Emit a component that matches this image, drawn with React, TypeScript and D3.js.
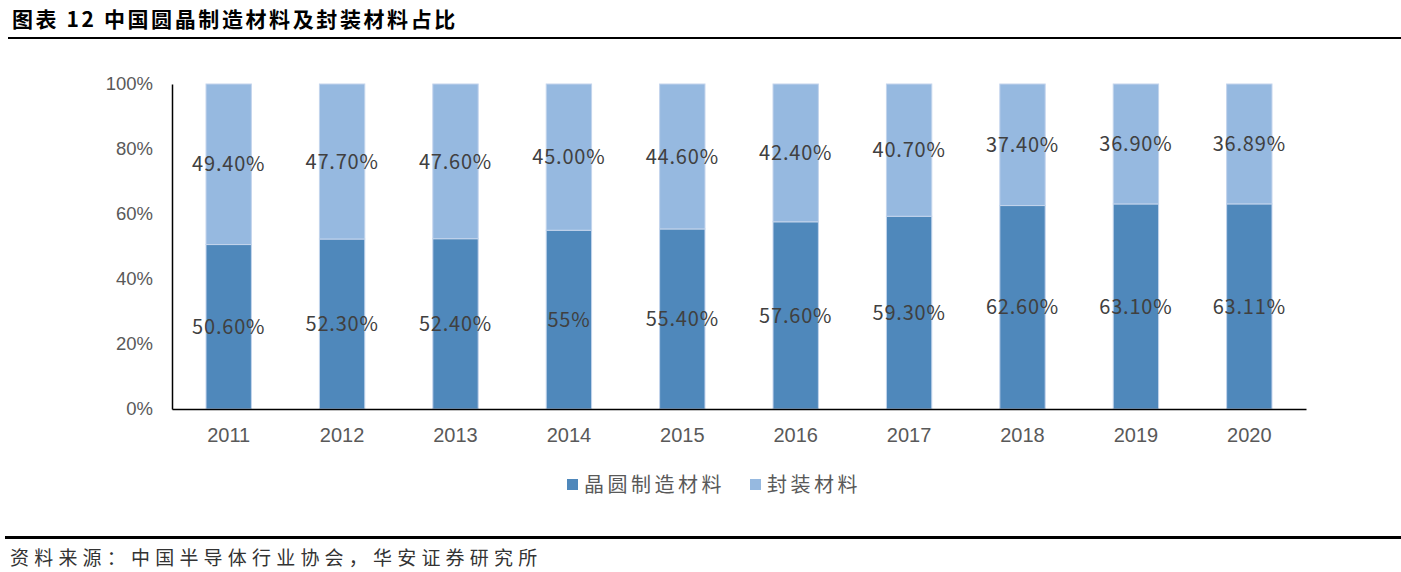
import React, { useRef, useEffect } from 'react';
import * as d3 from 'd3';

const years = ['2011', '2012', '2013', '2014', '2015', '2016', '2017', '2018', '2019', '2020'];
const waferShare = [50.6, 52.3, 52.4, 55, 55.4, 57.6, 59.3, 62.6, 63.1, 63.11];
const packageShare = [49.4, 47.7, 47.6, 45.0, 44.6, 42.4, 40.7, 37.4, 36.9, 36.89];
const waferLabels = ['50.60%', '52.30%', '52.40%', '55%', '55.40%', '57.60%', '59.30%', '62.60%', '63.10%', '63.11%'];
const packageLabels = ['49.40%', '47.70%', '47.60%', '45.00%', '44.60%', '42.40%', '40.70%', '37.40%', '36.90%', '36.89%'];
const yTicks = [0, 20, 40, 60, 80, 100];
const seriesNames = ['晶圆制造材料', '封装材料'];

const colors = {
  wafer: '#4f88bb',
  pack: '#96b9e0',
  edge: '#c3d4ec',
  axisText: '#595959',
  label: '#404040',
};

const CJK = '"Noto Sans CJK SC", "Noto Sans", sans-serif';
const LAT = '"Liberation Sans", Arial, sans-serif';

const App: React.FC = () => {
  const svgRef = useRef<SVGSVGElement>(null);
  const width = 1401;
  const height = 572;

  useEffect(() => {
    document.body.style.margin = '0';
    if (!svgRef.current) return;
    const svg = d3.select(svgRef.current);
    svg.selectAll('*').remove();

    const margin = { top: 84, left: 172, right: 1401 - 1306, bottom: 572 - 409 };
    const w = width - margin.left - margin.right;
    const h = height - margin.top - margin.bottom;

    svg.append('rect').attr('width', width).attr('height', height).attr('fill', '#fff');

    // Title and rules
    svg.append('text')
      .attr('x', 12)
      .attr('y', 27)
      .attr('font-family', CJK)
      .attr('font-size', '21px')
      .attr('font-weight', 700)
      .attr('letter-spacing', '2.6px')
      .attr('fill', '#000')
      .text('图表 12 中国圆晶制造材料及封装材料占比');

    svg.append('rect').attr('x', 8).attr('y', 37).attr('width', width - 8).attr('height', 2).attr('fill', '#000');
    svg.append('rect').attr('x', 5).attr('y', 536).attr('width', width - 5).attr('height', 3).attr('fill', '#000');

    svg.append('text')
      .attr('x', 10)
      .attr('y', 565)
      .attr('font-family', CJK)
      .attr('font-size', '19px')
      .attr('letter-spacing', '5.2px')
      .attr('fill', '#333')
      .text('资料来源：中国半导体行业协会，华安证券研究所');

    const g = svg.append('g').attr('transform', `translate(${margin.left},${margin.top})`);

    const x = d3.scaleBand<string>().domain(years).range([0, w]).paddingInner(0.6).paddingOuter(0.3);
    const y = d3.scaleLinear().domain([0, 100]).range([h, 0]);

    // Stacked bars
    const rows = years.map((yr, i) => ({ year: yr, wafer: waferShare[i], pack: packageShare[i] }));
    const stack = d3.stack<{ year: string; wafer: number; pack: number }>().keys(['wafer', 'pack']);
    const series = stack(rows);
    const fills = [colors.wafer, colors.pack];
    const labelSets = [waferLabels, packageLabels];

    series.forEach((s, si) => {
      g.selectAll(`.bar-${si}`)
        .data(s)
        .enter()
        .append('rect')
        .attr('x', d => x(d.data.year)!)
        .attr('y', d => y(Math.min(d[1], 100)))
        .attr('width', x.bandwidth())
        .attr('height', d => y(d[0]) - y(Math.min(d[1], 100)))
        .attr('fill', fills[si])
        .attr('stroke', colors.edge)
        .attr('stroke-width', 1);
    });

    series.forEach((s, si) => {
      g.selectAll(`.lab-${si}`)
        .data(s)
        .enter()
        .append('text')
        .attr('x', d => x(d.data.year)! + x.bandwidth() / 2)
        .attr('y', d => (y(d[0]) + y(Math.min(d[1], 100))) / 2)
        .attr('dy', '0.36em')
        .attr('text-anchor', 'middle')
        .attr('font-family', CJK)
        .attr('font-size', '20px')
        .attr('letter-spacing', '0.8px')
        .attr('fill', colors.label)
        .text((d, i) => labelSets[si][i]);
    });

    // Axes
    const yAxis = g.append('g')
      .call(d3.axisLeft(y).tickValues(yTicks).tickSize(0).tickPadding(19).tickFormat(d => `${d}%`));
    yAxis.select('.domain').attr('stroke', '#000').attr('stroke-width', 1.5);
    yAxis.selectAll('text')
      .attr('font-family', LAT)
      .attr('font-size', '18.5px')
      .attr('fill', colors.axisText);

    const xAxis = g.append('g')
      .attr('transform', `translate(0,${h})`)
      .call(d3.axisBottom(x).tickSize(0).tickPadding(19));
    xAxis.select('.domain').attr('stroke', '#000').attr('stroke-width', 1.5);
    xAxis.selectAll('text')
      .attr('font-family', LAT)
      .attr('font-size', '20px')
      .attr('fill', colors.axisText);

    // Legend
    const legend = svg.append('g').attr('transform', 'translate(567,485)');
    const legendX = [0, 183];
    seriesNames.forEach((name, i) => {
      legend.append('rect')
        .attr('x', legendX[i])
        .attr('y', -6)
        .attr('width', 11)
        .attr('height', 11)
        .attr('fill', fills[i]);
      legend.append('text')
        .attr('x', legendX[i] + 17)
        .attr('y', 0)
        .attr('dy', '0.35em')
        .attr('font-family', CJK)
        .attr('font-size', '20px')
        .attr('letter-spacing', '3.5px')
        .attr('fill', colors.axisText)
        .text(name);
    });
  }, []);

  return <svg ref={svgRef} width={width} height={height} style={{ display: 'block' }} />;
};

export default App;
